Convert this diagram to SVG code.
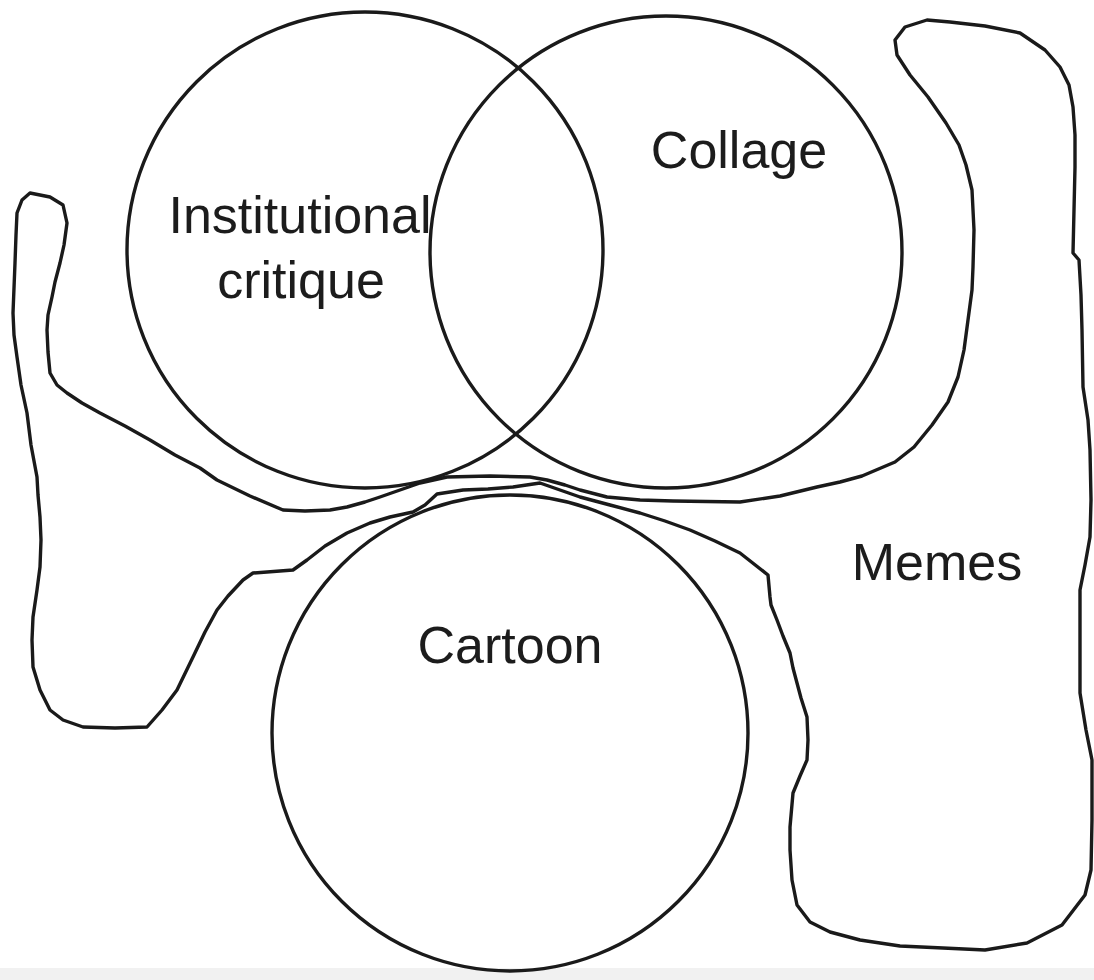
<svg xmlns="http://www.w3.org/2000/svg" width="1094" height="980" viewBox="0 0 1094 980">
<style>
.ln{fill:none;stroke:#1a1a1a;stroke-width:3.4;stroke-linejoin:round;stroke-linecap:round}
.lb{font-family:"Liberation Sans",Arial,sans-serif;font-size:52px;fill:#1c1c1c;text-anchor:middle}
</style>
<rect x="0" y="0" width="1094" height="980" fill="#ffffff"/>
<rect x="0" y="968" width="1094" height="12" fill="#f1f1f1"/>
<g id="memes">
<path class="ln" d="M30,193 L50,197 L63,205 L67,223 L64,245 L60,263 L55,282 L52,297 L48,315 L47,330 L48,352 L50,373 L57,385 L67,393 L82,403 L100,413 L125,426 L150,440 L175,455 L200,468 L217,480 L250,496 L283,510 L305,511 L330,510 L347,507 L365,502 L380,497 L400,490 L420,483 L447,477 L490,476 L530,477 L547,480 L565,485 L580,490 L607,497 L640,500 L673,501 L740,502 L780,496 L817,487 L840,482 L862,476 L895,462 L914,447 L932,425 L948,402 L958,377 L964,350 L968,320 L972,290 L973,267 L974,230 L972,190 L966,165 L959,145 L946,123 L928,97 L910,75 L897,55 L895,40 L905,27 L927,20 L950,22 L985,26 L1020,33 L1045,50 L1060,67 L1069,85 L1073,107 L1075,135 L1075,167 L1074,210 L1073,253 L1079,260 L1081,295 L1082,330 L1083,387 L1088,420 L1090,450 L1091,500 L1090,537 L1085,565 L1080,590 L1080,640 L1080,693 L1086,730 L1092,760 L1092,820 L1091,870 L1085,895 L1062,925 L1027,943 L985,950 L943,948 L900,946 L860,940 L830,932 L810,922 L797,905 L792,880 L790,850 L790,827 L793,793 L800,776 L807,760 L808,740 L807,717 L801,698 L797,683 L793,668 L790,653 L783,636 L777,620 L771,605 L770,597 L768,575 L740,553 L715,541 L690,530 L665,521 L640,513 L610,505 L580,497 L560,490 L540,483 L513,487 L488,489 L463,490 L437,494 L425,505 L413,512 L390,517 L370,523 L347,533 L325,546 L307,560 L293,570 L253,573 L243,580 L228,596 L217,610 L205,632 L193,657 L177,690 L162,710 L147,727 L115,728 L83,727 L63,720 L50,710 L40,690 L33,667 L32,640 L33,617 L37,590 L40,567 L41,540 L40,517 L38,495 L37,477 L31,445 L27,413 L21,385 L17,357 L14,335 L13,313 L14,288 L15,263 L16,235 L17,213 L22,200 Z"/>
<text class="lb" x="937" y="580">Memes</text>
</g>
<g id="institutional-critique">
<circle class="ln" cx="365" cy="250" r="238"/>
<text class="lb" x="300" y="233">Institutional</text>
<text class="lb" x="301" y="298">critique</text>
</g>
<g id="collage">
<circle class="ln" cx="666" cy="252" r="236"/>
<text class="lb" x="739" y="168">Collage</text>
</g>
<g id="cartoon">
<circle class="ln" cx="510" cy="733" r="238"/>
<text class="lb" x="510" y="663">Cartoon</text>
</g>
<g id="connectors"></g>
</svg>
